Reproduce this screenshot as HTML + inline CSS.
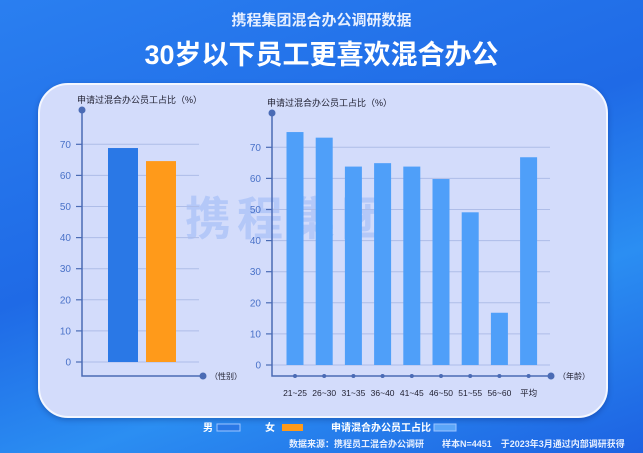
<!DOCTYPE html>
<html><head><meta charset="utf-8">
<style>
html,body{margin:0;padding:0;}
body{width:643px;height:453px;overflow:hidden;background:linear-gradient(160deg,#2a7ff0 0%,#1f6ae6 45%,#2b8ef2 70%,#1d62e2 100%);font-family:"Liberation Sans","Noto Sans CJK SC",sans-serif;position:relative;}
.t{position:absolute;color:#fff;}
</style></head>
<body>
<div class="t" style="left:0;width:643px;text-align:center;top:9px;font-size:15px;color:#e6efff;font-weight:bold;">携程集团混合办公调研数据</div>
<div class="t" style="left:0;width:643px;text-align:center;top:33px;font-size:27px;font-weight:bold;">30岁以下员工更喜欢混合办公</div>
<div style="position:absolute;left:38px;top:83px;width:566px;height:331px;background:#d3dcfb;border:2px solid #f4f7ff;border-radius:30px;box-shadow:0 2px 6px rgba(0,0,60,0.25);"></div>
<svg id="chart" width="643" height="453" style="position:absolute;left:0;top:0" font-family="Liberation Sans, Noto Sans CJK SC, sans-serif">
<text x="185" y="235" font-size="46" font-weight="bold" fill="#adc4f8" opacity="0.8" letter-spacing="6">携程集团</text>
<g id="left"></g><g id="right"></g>
<g font-size="10" fill="#fff" font-weight="bold">
<text x="203" y="431">男</text><rect x="217" y="424" width="23" height="7" fill="#2a78e6" stroke="#9cc4ff" stroke-width="1"/>
<text x="265" y="431">女</text><rect x="282" y="424" width="21" height="7" fill="#ff9a1a"/>
<text x="331" y="431">申请混合办公员工占比</text><rect x="434" y="424" width="22" height="7" fill="#5ba6f8" stroke="#9cc4ff" stroke-width="1"/>
</g>
<text x="289" y="447" font-size="9" fill="#e6efff" font-weight="bold">数据来源：携程员工混合办公调研　　样本N=4451　于2023年3月通过内部调研获得</text>
</svg>
<script>
const genderCats=['男','女'];
const genderVals=[68.8,64.6];
const ageCats=['21~25','26~30','31~35','36~40','41~45','46~50','51~55','56~60','平均'];
const ageVals=[74.9,73.1,63.8,64.9,63.8,59.8,49.1,16.8,66.8];
const yTicks=[0,10,20,30,40,50,60,70];
const NS='http://www.w3.org/2000/svg';
function mk(p,t,a){const e=document.createElementNS(NS,t);for(const k in a)e.setAttribute(k,a[k]);p.appendChild(e);return e;}
function axes(g,ax,y0,gx2,axisY,endX,topY,xlab,ylabX){
  const ys=v=>y0-v*3.11;
  const t=mk(g,'text',{x:ylabX,y:topY-7,'font-size':9,fill:'#223'});t.textContent='申请过混合办公员工占比（%）';
  
  
  yTicks.forEach(v=>{
    const l=mk(g,'line',{x1:ax,x2:gx2,y1:ys(v),y2:ys(v),stroke:'#aebde8','stroke-width':1});
    
    
    mk(g,'line',{x1:ax-6,x2:ax,y1:ys(v),y2:ys(v),stroke:'#4a6bb5','stroke-width':1.2});
    const tt=mk(g,'text',{x:ax-11,y:ys(v)+3.5,'font-size':10,fill:'#4a72c8','text-anchor':'end'});tt.textContent=v;
    
    
  });
  mk(g,'polyline',{points:`${ax},${topY} ${ax},${axisY} ${endX},${axisY}`,fill:'none',stroke:'#4a6bb5','stroke-width':1.5});
  mk(g,'circle',{cx:ax,cy:topY,r:3.5,fill:'#4a6bb5'});
  mk(g,'circle',{cx:endX,cy:axisY,r:3.5,fill:'#4a6bb5'});
  const xl=mk(g,'text',{x:endX+7,y:axisY+3,'font-size':8,fill:'#223'});xl.textContent=xlab;
  
  
  return ys;
}
const L=document.getElementById('left');
const ysL=axes(L,82,362,199,376,203,110,'（性别）',77);
const lColors=['#2a78e6','#ff9a1a'];
genderVals.forEach((v,i)=>{
  const x=108+i*38;
  const r=mk(L,'rect',{x:x,y:ysL(v),width:30,height:ysL(0)-ysL(v),fill:lColors[i]});
  
  
});
const R=document.getElementById('right');
const ysR=axes(R,272,365,550,376,551,113,'（年龄）',267);
ageVals.forEach((v,i)=>{
  const cx=295+i*29.2;
  const r=mk(R,'rect',{x:cx-8.5,y:ysR(v),width:17,height:ysR(0)-ysR(v),fill:'#4f9ff9'});
  
  
  mk(R,'circle',{cx:cx,cy:376,r:2,fill:'#4a6bb5'});
  const t=mk(R,'text',{x:cx,y:396,'font-size':8.5,fill:'#223','text-anchor':'middle'});t.textContent=ageCats[i];
  
  
});
</script>
</body></html>
